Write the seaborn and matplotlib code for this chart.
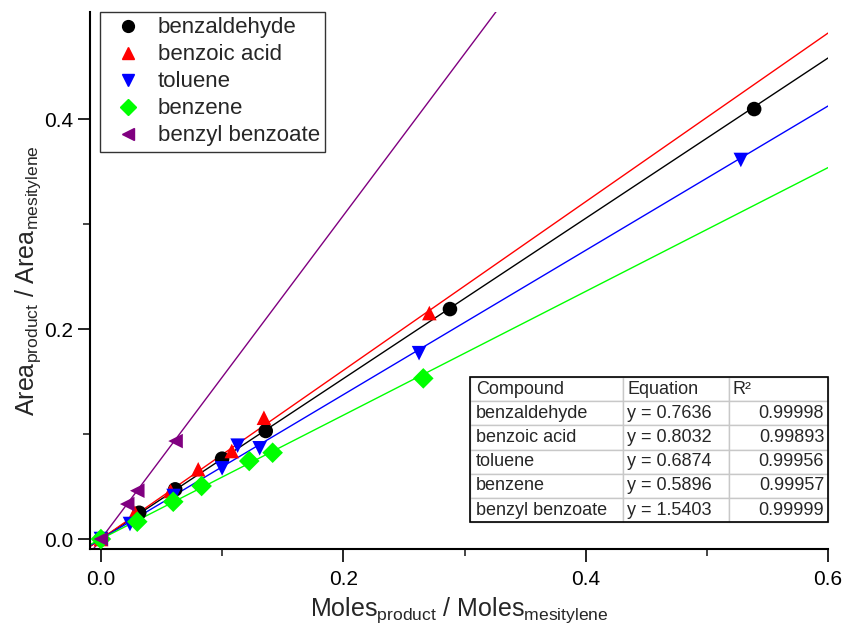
import numpy as np
import pandas as pd
import matplotlib
matplotlib.use("Agg")
import matplotlib.pyplot as plt
import seaborn as sns
from matplotlib.patches import Rectangle
from matplotlib.lines import Line2D

sns.set_theme(style="ticks")
plt.rcParams['font.family'] = ['Liberation Sans', 'DejaVu Sans']
plt.rcParams['mathtext.fontset'] = 'custom'
plt.rcParams['mathtext.rm'] = 'Liberation Sans'
plt.rcParams['mathtext.it'] = 'Liberation Sans'

compounds = ["benzaldehyde", "benzoic acid", "toluene", "benzene", "benzyl benzoate"]
colors = ["black", "red", "blue", "#00ff00", "purple"]
markers = ["o", "^", "v", "D", "<"]
slopes = [0.7636, 0.8032, 0.6874, 0.5896, 1.5403]
r2 = ["0.99998", "0.99893", "0.99956", "0.99957", "0.99999"]

benzaldehyde_x = [0.0, 0.0316, 0.0613, 0.100, 0.136, 0.288, 0.539]
benzaldehyde_y = [0.0, 0.025, 0.0473, 0.0765, 0.1029, 0.219, 0.4095]
benzoic_x = [0.0, 0.028, 0.0575, 0.0803, 0.108, 0.1345, 0.271]
benzoic_y = [0.0, 0.025, 0.0457, 0.0664, 0.0838, 0.1155, 0.2152]
toluene_x = [0.0, 0.024, 0.06, 0.100, 0.1128, 0.131, 0.2625, 0.528]
toluene_y = [0.0, 0.0143, 0.041, 0.0673, 0.0889, 0.0864, 0.177, 0.361]
benzene_x = [0.0, 0.030, 0.0597, 0.0831, 0.1224, 0.1417, 0.266]
benzene_y = [0.0, 0.0165, 0.0355, 0.0505, 0.0743, 0.0822, 0.153]
bb_x = [0.0, 0.0217, 0.030, 0.0616]
bb_y = [0.0, 0.0333, 0.046, 0.0933]

xs = [benzaldehyde_x, benzoic_x, toluene_x, benzene_x, bb_x]
ys = [benzaldehyde_y, benzoic_y, toluene_y, benzene_y, bb_y]

rows = []
for name, x, y in zip(compounds, xs, ys):
    for a, b in zip(x, y):
        rows.append({"x": a, "y": b, "compound": name})
df = pd.DataFrame(rows)

xlim = (-0.009, 0.6)
ylim = (-0.0095, 0.502)

fig = plt.figure(figsize=(8.45, 6.28), dpi=100)
ax = fig.add_axes([0.1065, 0.1258, 0.8735, 0.8552])

# fit lines (through origin)
for name, k, c in zip(compounds, slopes, colors):
    lx = np.array(xlim)
    ax.plot(lx, k * lx, color=c, lw=1.0, zorder=2)

pal = dict(zip(compounds, colors))
mk = dict(zip(compounds, markers))
sns.scatterplot(data=df, x="x", y="y", hue="compound", style="compound",
                palette=pal, markers=mk, hue_order=compounds, style_order=compounds,
                s=110, edgecolor="none", ax=ax, zorder=3, legend=False)

ax.set_xlim(*xlim)
ax.set_ylim(*ylim)
ax.set_xticks([0.0, 0.2, 0.4, 0.6])
ax.set_xticks([0.1, 0.3, 0.5], minor=True)
ax.set_yticks([0.0, 0.2, 0.4])
ax.set_yticks([0.1, 0.3], minor=True)
ax.set_xticklabels(["0.0", "0.2", "0.4", "0.6"])
ax.set_yticklabels(["0.0", "0.2", "0.4"])
ax.tick_params(axis="both", which="major", direction="out", length=9, width=1.2,
               labelsize=15, colors="black")
ax.tick_params(axis="x", which="major", pad=6)
ax.tick_params(axis="y", which="major", pad=3)
ax.tick_params(axis="both", which="minor", direction="out", length=5, width=1.2)
for s in ["top", "right"]:
    ax.spines[s].set_visible(False)
for s in ["left", "bottom"]:
    ax.spines[s].set_linewidth(1.5)
    ax.spines[s].set_color("black")

ax.set_xlabel(r"Moles$_{\mathrm{product}}$ / Moles$_{\mathrm{mesitylene}}$", fontsize=18, labelpad=5)
ax.set_ylabel(r"Area$_{\mathrm{product}}$ / Area$_{\mathrm{mesitylene}}$", fontsize=18, labelpad=1)

# legend
handles = [Line2D([], [], ls="none", marker=m, color=c, markersize=8.5) for m, c in zip(markers, colors)]
leg = ax.legend(handles, compounds, loc="upper left", bbox_to_anchor=(0.0135, 1.0),
                fontsize=16, frameon=True, fancybox=False, edgecolor="black",
                handletextpad=0.35, labelspacing=0.27, borderpad=0.25, handlelength=2.0,
                borderaxespad=0.0)
leg.get_frame().set_linewidth(1.0)

# table
tx0, ty0, tw, th = 0.515, 0.050, 0.485, 0.270
cell_text = [[n, "y = %.4f" % k, r] for n, k, r in zip(compounds, slopes, r2)]
tab = ax.table(cellText=cell_text, colLabels=["Compound", "Equation", "R²"],
               bbox=[tx0, ty0, tw, th], cellLoc="left",
               colWidths=[0.427, 0.296, 0.277])
tab.auto_set_font_size(False)
tab.set_fontsize(13)
for (r, c), cell in tab.get_celld().items():
    cell.set_edgecolor("#c8c8c8")
    cell.set_linewidth(1.0)
    cell.set_facecolor("white")
    cell.PAD = 0.04
    cell._loc = "left"
    cell.get_text().set_ha("left")
    if c == 2 and r > 0:
        cell._loc = "right"
        cell.get_text().set_ha("right")
tab.set_zorder(5)
ax.add_patch(Rectangle((tx0, ty0), tw, th, transform=ax.transAxes,
                       fill=False, edgecolor="black", lw=1.2, zorder=6, clip_on=False))

fig.savefig("out.png", dpi=100)
